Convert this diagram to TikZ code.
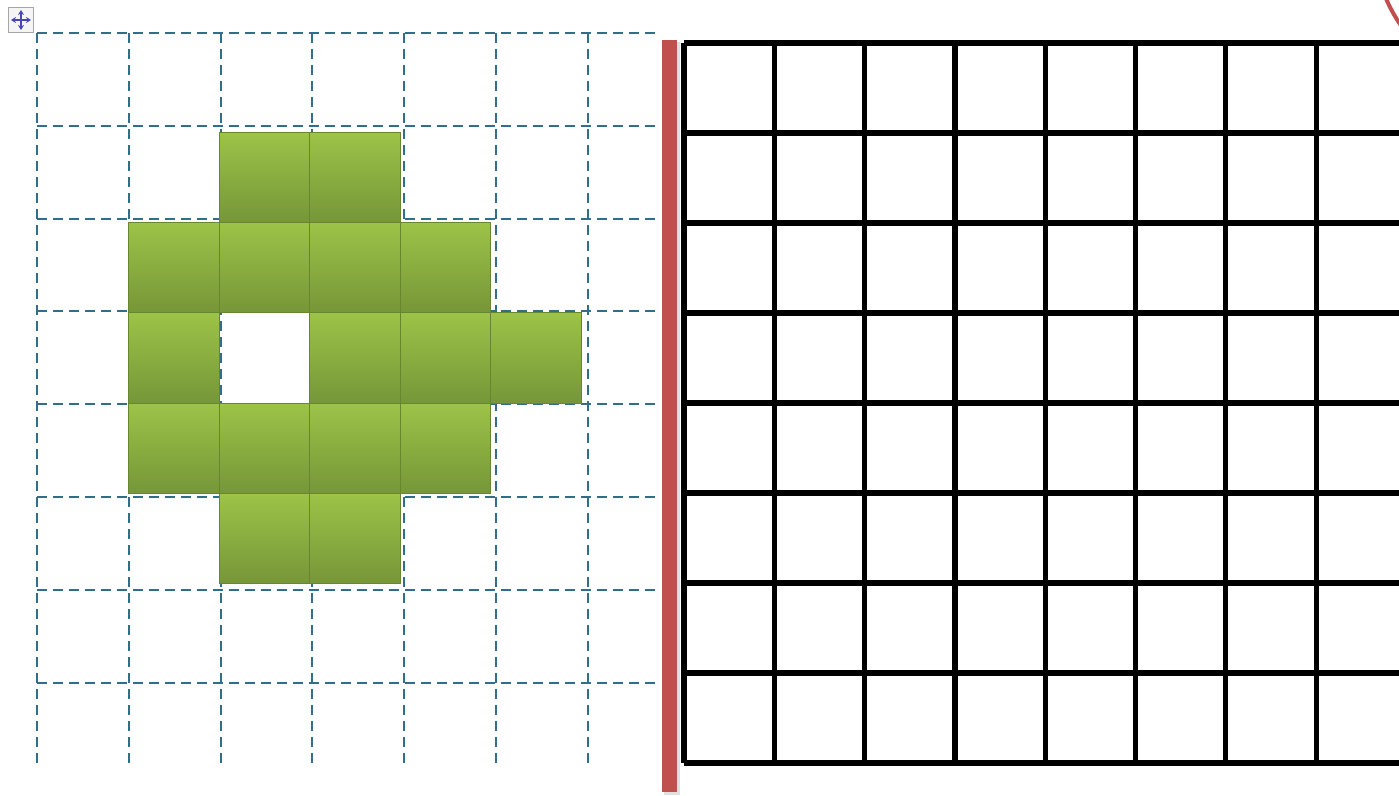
\documentclass[tikz,border=0pt]{standalone}
\usepackage{xcolor}
\usepackage{tikz}
\usetikzlibrary{arrows.meta,calc}
\definecolor{gridblue}{RGB}{49,110,140}
\definecolor{leaftop}{RGB}{157,195,72}
\definecolor{leafbot}{RGB}{118,150,56}
\definecolor{leafedge}{RGB}{104,134,48}
\definecolor{barred}{RGB}{192,80,77}
\tikzset{
  guide/.style={draw=gridblue,line width=1pt,dash pattern=on 5pt off 3pt},
  pixel/.style={rectangle,draw=leafedge,line width=0.4pt,top color=leaftop,bottom color=leafbot,
                minimum width=45.25pt,minimum height=45.15pt,inner sep=0pt},
  board/.style={draw=black,line width=2.6pt},
  handle/.style={-{Stealth[length=2.5pt,width=3pt]},draw=blue!45!gray,line width=0.6pt},
}

\begin{document}
\begin{tikzpicture}[x=0.5pt,y=-0.5pt]
  \useasboundingbox (0,0) rectangle (1399,796);
  % dashed guide grid
  \foreach \c in {0,...,6} {
    \draw[guide] ({37+91.8*\c},33) -- ({37+91.8*\c},765);
  }
  \foreach \r in {0,...,7} {
    \draw[guide] (37,{33+92.8*\r}) -- (660,{33+92.8*\r});
  }
  % green pixels
  \foreach \r/\c in {1/2,1/3,2/1,2/2,2/3,2/4,3/1,3/3,3/4,3/5,4/1,4/2,4/3,4/4,5/2,5/3} {
    \node[pixel] (p\r\c) at ({83.25+90.5*\c},{87.15+90.3*\r}) {};
  }
  % move handle
  \node[rectangle,draw=black!35,fill=black!4,minimum size=12.5pt,inner sep=0pt] (grip) at (21,20) {};
  \draw[handle] (grip.center) -- ++(0,-10);
  \draw[handle] (grip.center) -- ++(0,10);
  \draw[handle] (grip.center) -- ++(-10,0);
  \draw[handle] (grip.center) -- ++(10,0);
  % separator bar
  \fill[black!12] (664,42) rectangle (680,795);
  \fill[barred] (662,40) rectangle (677,792);
  % black board
  \foreach \i in {0,...,8} {
    \draw[board] ({684+90.3*\i},43) -- ({684+90.3*\i},763);
  }
  \foreach \j in {0,...,8} {
    \draw[board] (684,{43+90*\j}) -- (1420,{43+90*\j});
  }
  % red arc
  \draw[barred,line width=2pt] (1384,-6) to[bend right=6] (1404,30);
\end{tikzpicture}
\end{document}
